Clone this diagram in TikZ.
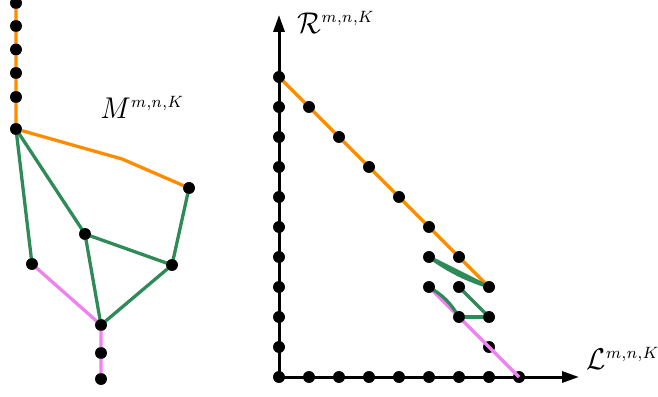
\documentclass[tikz,border=0pt]{standalone}
\usepackage{graphicx}
\usetikzlibrary{arrows.meta}
\definecolor{orgc}{RGB}{255,140,0}
\definecolor{grnc}{RGB}{46,139,87}
\definecolor{pnkc}{RGB}{238,130,238}
\newcommand{\supmnk}{^{\scalebox{0.78}{$\scriptstyle m,n,K$}}}
\begin{document}
\begin{tikzpicture}[x=1pt,y=1pt,
  dot/.style={circle,fill=black,inner sep=0pt,minimum size=11.6pt},
  oline/.style={orgc,line width=3.3pt},
  gline/.style={grnc,line width=3.3pt},
  pline/.style={pnkc,line width=3.3pt},
  axis/.style={black,line width=3pt,-{Triangle[length=17pt,width=11pt]}},
  lbl/.style={inner sep=0pt,xscale=2.8,yscale=3.0}]
\useasboundingbox (0,0) rectangle (658,396);
% ---------- left graph ----------
\coordinate (top) at (16,396);
\coordinate (obend) at (122,237);
\node[dot] (a0) at (16,393) {};
\node[dot] (a1) at (16,370) {};
\node[dot] (a2) at (16,346.5) {};
\node[dot] (a3) at (16,323) {};
\node[dot] (a4) at (16,299) {};
\node[dot] (a5) at (16,267) {};
\node[dot] (b) at (189,208) {};
\node[dot] (c) at (85,162) {};
\node[dot] (d) at (32,132) {};
\node[dot] (e) at (172,131) {};
\node[dot] (f) at (101,71) {};
\node[dot] (g) at (101,43) {};
\node[dot] (h) at (101,17) {};
\draw[oline] (top) -- (a5.center) -- (obend) -- (b.center);
\draw[gline] (a5.center) -- (d.center);
\draw[gline] (a5.center) -- (c.center);
\draw[gline] (c.center) -- (f.center);
\draw[gline] (c.center) -- (e.center);
\draw[gline] (b.center) -- (e.center);
\draw[gline] (e.center) -- (f.center);
\draw[pline] (d.center) -- (f.center) -- (h.center);
\foreach \n in {a0,a1,a2,a3,a4,a5,b,c,d,e,f,g,h}
  \fill (\n) circle (5.8pt);
\node[lbl,anchor=west] (mlab) at (100,289) {$M\supmnk$};
% ---------- right plot ----------
\begin{scope}[shift={(279,19)},x=30pt,y=30pt]
  \coordinate (o) at (0,0);
  \coordinate (xend) at (10,0);
  \coordinate (yend) at (0,12.07);
  \draw[axis] (o) -- (xend);
  \draw[axis] (o) -- (yend);
  \foreach \i in {0,...,10} \node[dot] (y\i) at (0,\i) {};
  \foreach \i in {1,...,8} \node[dot] (x\i) at (\i,0) {};
  \node[dot] (p19) at (1,9) {};
  \node[dot] (p28) at (2,8) {};
  \node[dot] (p37) at (3,7) {};
  \node[dot] (p46) at (4,6) {};
  \node[dot] (p55) at (5,5) {};
  \node[dot] (p64) at (6,4) {};
  \node[dot] (p73) at (7,3) {};
  \node[dot] (p54) at (5,4) {};
  \node[dot] (p53) at (5,3) {};
  \node[dot] (p63) at (6,3) {};
  \node[dot] (p62) at (6,2) {};
  \node[dot] (p72) at (7,2) {};
  \node[dot] (p71) at (7,1) {};
  \draw[oline] (y10.center) -- (p73.center);
  \draw[pline] (p53.center) -- (p62.center);
  \draw[gline] (p54.center) -- (p73.center);
  \draw[gline] (p54.center) to[bend right=8] (p73.center);
  \draw[gline] (p53.center) to[bend left=14] (p62.center);
  \draw[gline] (p62.center) -- (p72.center);
  \draw[gline] (p63.center) -- (p72.center);
  \foreach \n in {y0,y1,y2,y3,y4,y5,y6,y7,y8,y9,y10,x1,x2,x3,x4,x5,x6,x7,x8,
    p19,p28,p37,p46,p55,p64,p73,p54,p53,p63,p62,p72,p71}
    \fill (\n) circle (5.8pt);
  \draw[pline] (p62) -- (x8.center);
\end{scope}
\node[lbl,anchor=west] (rlab) at (297,374) {$\mathcal{R}\supmnk$};
\node[lbl,anchor=west] (llab) at (586,38) {$\mathcal{L}\supmnk$};
\end{tikzpicture}
\end{document}
